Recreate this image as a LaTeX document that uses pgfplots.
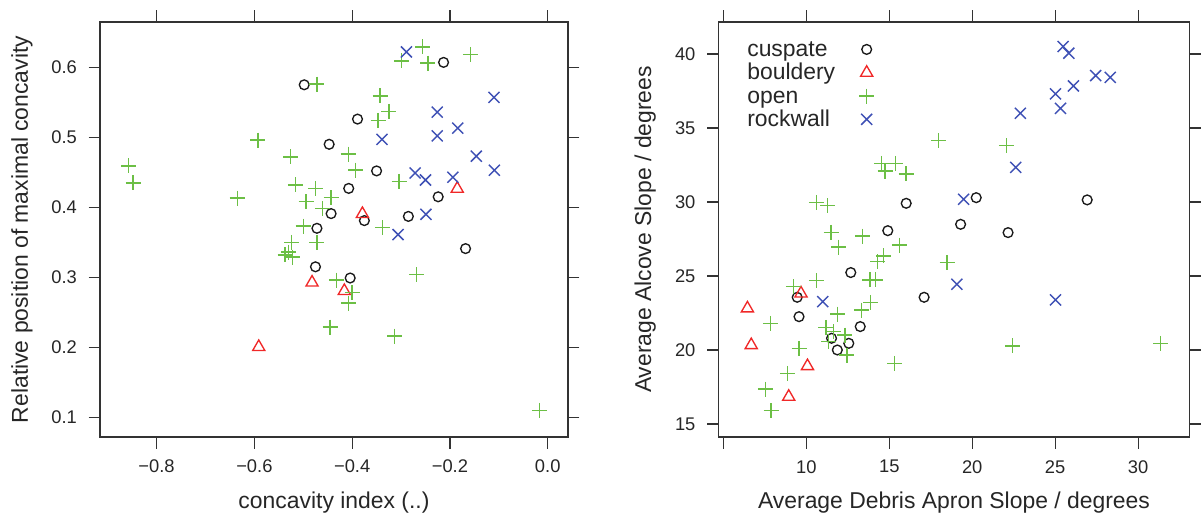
\documentclass[border=0pt]{standalone}
\usepackage{fontspec}
\setmainfont{Liberation Sans}
\usepackage{pgfplots}
\pgfplotsset{compat=1.18}
\definecolor{cuspcol}{HTML}{1A1A1A}
\definecolor{bouldcol}{HTML}{F02828}
\definecolor{opencol}{HTML}{6CBF45}
\definecolor{rockcol}{HTML}{3F51B5}
\definecolor{axcol}{HTML}{333333}
\newcommand\titlesize{\fontsize{23}{27}\selectfont}
\newcommand\ticksize{\fontsize{18.4}{22}\selectfont}
\pgfplotsset{
  lattice/.style={
    scale only axis,
    height=415bp,
    axis line style={axcol, line width=1.2bp},
    every tick/.style={axcol, line width=1.2bp},
    major tick length=11.5bp,
    tick align=outside,
    xtick pos=both, ytick pos=both,
    xticklabel pos=lower, yticklabel pos=left,
    tick label style={font=\ticksize, text=black!85, inner sep=0pt},
    label style={font=\titlesize, text=black!85},
    xticklabel shift=11.5bp, yticklabel shift=11.5bp,
    clip=false,
  },
  myimg/.style={legend image code/.code={\path[draw=none,fill=none] (0bp,0bp) (20bp,0bp); \draw[##1] plot coordinates {(10bp,1bp)};}},
  cusp/.style={only marks, mark=o, mark size=4.9bp, color=cuspcol, mark options={line width=1.35bp}, myimg},
  bould/.style={only marks, mark=triangle, mark size=7bp, color=bouldcol, mark options={line width=1.35bp}, myimg},
  open/.style={only marks, mark=+, mark size=7.5bp, color=opencol, mark options={line width=1.45bp}, myimg},
  rock/.style={only marks, mark=x, mark size=7.8bp, color=rockcol, mark options={line width=1.45bp}, myimg},
}
\begin{document}
\begin{tikzpicture}
\useasboundingbox (0,0) rectangle (1204bp,519bp);
% ---------------- left panel ----------------
\begin{axis}[lattice,
  at={(100bp,82bp)}, anchor=south west, width=468bp,
  xmin=-0.9157, xmax=0.0415, ymin=0.0719, ymax=0.6647,
  xtick={-0.8,-0.6,-0.4,-0.2,0}, xticklabels={−0.8,−0.6,−0.4,−0.2,0.0},
  ytick={0.1,0.2,0.3,0.4,0.5,0.6}, yticklabels={0.1,0.2,0.3,0.4,0.5,0.6},
  xlabel={concavity index (..)},
  xlabel style={at={([yshift=-71bp]axis description cs:0.5,0)}, anchor=base},
  ylabel={Relative position of maximal concavity},
  ylabel style={at={([xshift=-72bp]axis description cs:0,0.5)}, anchor=base},
]
\addplot[cusp] coordinates {
(-0.498,0.575) (-0.213,0.607) (-0.389,0.526) (-0.447,0.490) (-0.350,0.452)
(-0.407,0.427) (-0.443,0.391) (-0.375,0.381) (-0.285,0.387) (-0.224,0.415)
(-0.472,0.370) (-0.168,0.341) (-0.475,0.315) (-0.404,0.299)};
\addplot[bould] coordinates {
(-0.379,0.3905) (-0.185,0.4265) (-0.482,0.2925) (-0.416,0.2805) (-0.591,0.2005)};
\addplot[open] coordinates {
(-0.256,0.629) (-0.158,0.618) (-0.299,0.609) (-0.245,0.606) (-0.472,0.576)
(-0.343,0.559) (-0.325,0.537) (-0.347,0.524) (-0.593,0.496) (-0.526,0.472)
(-0.408,0.476) (-0.393,0.453) (-0.857,0.459) (-0.848,0.435) (-0.635,0.413)
(-0.516,0.432) (-0.475,0.427) (-0.494,0.408) (-0.443,0.414) (-0.461,0.398)
(-0.304,0.437) (-0.338,0.371) (-0.500,0.373) (-0.524,0.350) (-0.472,0.350)
(-0.537,0.332) (-0.522,0.329) (-0.530,0.336) (-0.432,0.296) (-0.400,0.278)
(-0.407,0.263) (-0.445,0.229) (-0.313,0.216) (-0.268,0.304) (-0.017,0.110)};
\addplot[rock] coordinates {
(-0.289,0.622) (-0.110,0.557) (-0.226,0.536) (-0.226,0.502) (-0.184,0.513)
(-0.339,0.497) (-0.146,0.473) (-0.109,0.453) (-0.271,0.449) (-0.250,0.439)
(-0.194,0.443) (-0.249,0.390) (-0.306,0.361)};
\end{axis}
% ---------------- right panel ----------------
\begin{axis}[lattice,
  at={(718.6bp,82bp)}, anchor=south west, width=470.8bp,
  xmin=4.713, xmax=33.09, ymin=14.12, ymax=42.16,
  xtick={5,10,15,20,25,30}, xticklabels={{},10,15,20,25,30},
  ytick={15,20,25,30,35,40}, yticklabels={15,20,25,30,35,40},
  xlabel={Average Debris Apron Slope / degrees},
  xlabel style={at={([yshift=-71bp]axis description cs:0.5,0)}, anchor=base},
  ylabel={Average Alcove Slope / degrees},
  ylabel style={at={([xshift=-67.6bp]axis description cs:0,0.5)}, anchor=base},
  legend cell align=left, legend plot pos=right,
  legend style={draw=none, fill=none, at={(0.0588,0.958)}, anchor=north west,
    inner sep=0pt, outer sep=0pt, font=\titlesize, text=black!85,
    row sep=1.3bp, column sep=20.5bp,
    nodes={inner sep=1bp, text height=16bp, text depth=4bp}},
]
\addplot[cusp] coordinates {
(20.24,30.29) (26.93,30.14) (16.02,29.91) (19.30,28.49) (14.91,28.06)
(22.16,27.93) (12.68,25.23) (17.10,23.56) (9.45,23.56) (9.56,22.25)
(13.25,21.58) (11.52,20.79) (12.56,20.45) (11.87,20.00)};
\addlegendentry{cuspate}
\addplot[bould] coordinates {
(6.45,22.81) (9.68,23.82) (6.68,20.33) (10.07,18.91) (8.94,16.84)};
\addlegendentry{bouldery}
\addplot[open] coordinates {
(17.98,34.14) (22.06,33.81) (14.52,32.61) (15.37,32.61) (14.75,32.09)
(16.02,31.89) (10.60,29.98) (11.29,29.75) (11.50,27.95) (13.39,27.70)
(11.95,26.95) (15.61,27.09) (14.29,25.97) (14.64,26.35) (18.49,25.90)
(10.60,24.68) (9.22,24.28) (13.83,24.73) (14.18,24.73) (13.88,23.22)
(13.32,22.70) (11.87,22.43) (7.83,21.80) (11.18,21.53) (11.64,21.24)
(12.33,21.01) (11.34,20.56) (12.45,19.66) (9.56,20.11) (15.33,19.10)
(22.43,20.27) (31.36,20.45) (8.86,18.42) (7.53,17.36) (7.88,15.90)};
\addlegendentry{open}
\addplot[rock] coordinates {
(25.48,40.50) (25.82,40.05) (27.44,38.54) (28.32,38.42) (26.10,37.84)
(25.02,37.30) (25.32,36.33) (22.90,35.99) (22.62,32.34) (19.48,30.18)
(10.99,23.27) (19.07,24.44) (25.02,23.38)};
\addlegendentry{rockwall}
\end{axis}
\end{tikzpicture}
\end{document}
